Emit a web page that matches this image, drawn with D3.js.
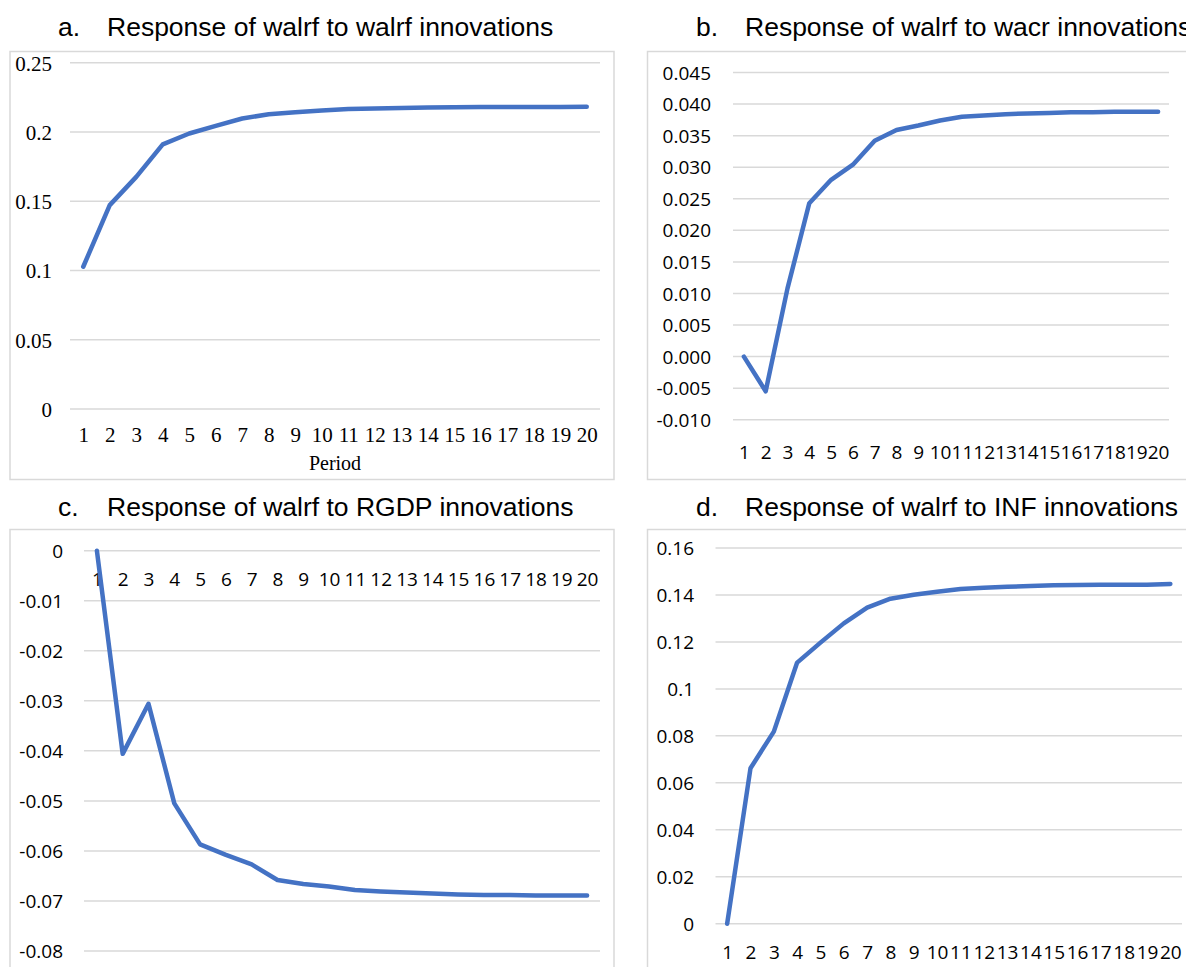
<!DOCTYPE html>
<html>
<head>
<meta charset="utf-8">
<script src="https://cdn.jsdelivr.net/npm/d3@7"></script>
<style>
  html, body { margin: 0; padding: 0; background: #fff; overflow: hidden; }
</style>
</head>
<body>
<svg id="chart" width="1186" height="967"></svg>
<script>
/*
  Impulse responses of walrf, four panels in a 2x2 grid
*/

// periods on the category axis
const periods = [1, 2, 3, 4, 5, 6, 7, 8, 9, 10, 11, 12, 13, 14, 15, 16, 17, 18, 19, 20]

// responses
const walrfResp = [0.1027, 0.1472, 0.1676, 0.1910, 0.1989, 0.2044, 0.2097, 0.2128, 0.2143, 0.2155,
  0.2165, 0.2170, 0.2173, 0.2176, 0.2178, 0.2180, 0.2180, 0.2181, 0.2181, 0.2182]
const wacrResp = [0.0000, -0.0055, 0.0108, 0.0243, 0.0280, 0.0304, 0.0342, 0.0359, 0.0366, 0.0374,
  0.0380, 0.0382, 0.0384, 0.0385, 0.0386, 0.0387, 0.0387, 0.0388, 0.0388, 0.0388]
const rgdpResp = [0.0000, -0.0406, -0.0306, -0.0505, -0.0587, -0.0608, -0.0627, -0.0658, -0.0666, -0.0671,
  -0.0678, -0.0681, -0.0683, -0.0685, -0.0687, -0.0688, -0.0688, -0.0689, -0.0689, -0.0689]
const infResp = [0.0000, 0.0662, 0.0818, 0.1112, 0.1197, 0.1279, 0.1346, 0.1384, 0.1401, 0.1414,
  0.1425, 0.1431, 0.1435, 0.1438, 0.1441, 0.1442, 0.1443, 0.1444, 0.1444, 0.1447]

// y tick values and their labels
const ticksA = [0, 0.05, 0.1, 0.15, 0.2, 0.25]
const labelsA = ["0", "0.05", "0.1", "0.15", "0.2", "0.25"]
const ticksB = [-0.010, -0.005, 0.000, 0.005, 0.010, 0.015, 0.020, 0.025, 0.030, 0.035, 0.040, 0.045]
const labelsB = ["-0.010", "-0.005", "0.000", "0.005", "0.010", "0.015", "0.020", "0.025", "0.030", "0.035", "0.040", "0.045"]
const ticksC = [0, -0.01, -0.02, -0.03, -0.04, -0.05, -0.06, -0.07, -0.08]
const labelsC = ["0", "-0.01", "-0.02", "-0.03", "-0.04", "-0.05", "-0.06", "-0.07", "-0.08"]
const ticksD = [0, 0.02, 0.04, 0.06, 0.08, 0.1, 0.12, 0.14, 0.16]
const labelsD = ["0", "0.02", "0.04", "0.06", "0.08", "0.1", "0.12", "0.14", "0.16"]

const titles = [
  "Response of walrf to walrf innovations",
  "Response of walrf to wacr innovations",
  "Response of walrf to RGDP innovations",
  "Response of walrf to INF innovations"
]

const SERIF = "'Liberation Serif', 'Times New Roman', serif"
const SANS = "'Open Sans', 'Noto Sans', sans-serif"
const TITLE_FONT = "'Liberation Sans', Arial, sans-serif"
const LINE_COLOR = "#4472C4"
const GRID_COLOR = "#d9d9d9"

// layout of each panel (frame box, plot range, label spots)
const panels = [
  { letter: "a.", title: titles[0], values: walrfResp, ticks: ticksA, labels: labelsA, domain: [0, 0.25],
    frame: [10, 51.5, 604, 428], xr: [70, 600], yr: [409, 62.7], yLabelX: 52, xLabelY: 441.5,
    titleX: [58, 107], titleY: 36, font: SERIF, fontSize: 21, xTitle: "Period" },
  { letter: "b.", title: titles[1], values: wacrResp, ticks: ticksB, labels: labelsB, domain: [-0.010, 0.045],
    frame: [647.5, 51.5, 560, 428], xr: [733, 1169], yr: [419.7, 72.5], yLabelX: 711, xLabelY: 458.5,
    titleX: [696, 745], titleY: 36, font: SANS, fontSize: 19 },
  { letter: "c.", title: titles[2], values: rgdpResp, ticks: ticksC, labels: labelsC, domain: [-0.08, 0],
    frame: [10, 529.5, 604, 460], xr: [84, 600], yr: [951, 550.7], yLabelX: 63, xLabelY: 585.5,
    titleX: [58, 107], titleY: 516, font: SANS, fontSize: 19 },
  { letter: "d.", title: titles[3], values: infResp, ticks: ticksD, labels: labelsD, domain: [0, 0.16],
    frame: [647.5, 529.5, 560, 460], xr: [715.5, 1182], yr: [923.7, 548], yLabelX: 694, xLabelY: 958.5,
    titleX: [696, 745], titleY: 516, font: SANS, fontSize: 19 }
]

const svg = d3.select("#chart")

panels.forEach(p => {
  const g = svg.append("g").attr("class", "panel-" + p.letter[0])

  // title, letter then tabbed text
  g.append("text")
    .attr("x", p.titleX[0]).attr("y", p.titleY)
    .style("font-family", TITLE_FONT).style("font-size", "26.5px").style("fill", "#000")
    .text(p.letter)
  g.append("text")
    .attr("x", p.titleX[1]).attr("y", p.titleY)
    .style("font-family", TITLE_FONT).style("font-size", "26.5px").style("fill", "#000")
    .text(p.title)

  // chart area border
  g.append("rect")
    .attr("x", p.frame[0]).attr("y", p.frame[1])
    .attr("width", p.frame[2]).attr("height", p.frame[3])
    .style("fill", "none").style("stroke", GRID_COLOR).style("stroke-width", 1.5)

  const x = d3.scalePoint().domain(periods).range(p.xr).padding(0.5)
  const y = d3.scaleLinear().domain(p.domain).range(p.yr)

  // gridlines
  g.append("g").selectAll("line")
    .data(p.ticks)
    .join("line")
    .attr("x1", p.xr[0]).attr("x2", p.xr[1])
    .attr("y1", d => y(d)).attr("y2", d => y(d))
    .style("stroke", GRID_COLOR).style("stroke-width", 1.5)

  // y labels
  const yAxis = g.append("g")
    .attr("transform", `translate(${p.yLabelX},0)`)
    .call(d3.axisLeft(y).tickValues(p.ticks).tickFormat((d, i) => p.labels[i]).tickSize(0).tickPadding(0))
  yAxis.select(".domain").remove()
  yAxis.selectAll("text")
    .attr("dy", "0.35em")
    .style("font-family", p.font).style("font-size", p.fontSize + "px").style("fill", "#000")

  // x labels
  const xAxis = g.append("g")
    .attr("transform", `translate(0,${p.xLabelY})`)
    .call(d3.axisBottom(x).tickSize(0).tickPadding(0))
  xAxis.select(".domain").remove()
  xAxis.selectAll("text")
    .attr("dy", 0)
    .style("font-family", p.font).style("font-size", p.fontSize + "px").style("fill", "#000")

  if (p.xTitle) {
    g.append("text")
      .attr("x", (p.xr[0] + p.xr[1]) / 2).attr("y", 470)
      .attr("text-anchor", "middle")
      .style("font-family", SERIF).style("font-size", "20px").style("fill", "#000")
      .text(p.xTitle)
  }

  // the response line
  const line = d3.line()
    .x((d, i) => x(periods[i]))
    .y(d => y(d))

  g.append("path")
    .datum(p.values)
    .attr("d", line)
    .style("fill", "none")
    .style("stroke", LINE_COLOR)
    .style("stroke-width", 4.5)
    .style("stroke-linejoin", "round")
    .style("stroke-linecap", "round")
})
</script>
</body>
</html>
